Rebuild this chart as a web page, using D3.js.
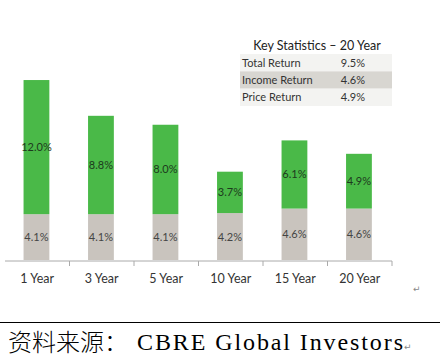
<!DOCTYPE html>
<html><head><meta charset="utf-8">
<script src="https://cdn.jsdelivr.net/npm/d3@7"></script>
<style>body{margin:0;background:#fff}svg{display:block}</style>
</head><body>
<script>
const categories = ["1 Year","3 Year","5 Year","10 Year","15 Year","20 Year"];
const income = [4.1,4.1,4.1,4.2,4.6,4.6];
const price = [12.0,8.8,8.0,3.7,6.1,4.9];
const statLabels = ["Total Return","Income Return","Price Return"];
const statValues = ["9.5%","4.6%","4.9%"];
const tableTitle = "Key Statistics \u2013 20 Year";
const sourceCN = "资料来源：";
const sourceEN = "CBRE Global Investors";

const W=440,H=361;
const svg=d3.select("body").append("svg").attr("width",W).attr("height",H);
const font="Lato, 'Open Sans', sans-serif";

const x=d3.scaleBand().domain(categories).range([5,392]).padding(0);
const y=d3.scaleLinear().domain([0,18]).range([260,58.8]);
const bw=x.bandwidth()*0.4;

const g=svg.append("g");
categories.forEach((c,i)=>{
  const cx=x(c)+x.bandwidth()/2-0.8;
  g.append("rect").attr("x",cx-bw/2).attr("width",bw)
    .attr("y",y(income[i])).attr("height",y(0)-y(income[i])).attr("fill","#c9c4be");
  g.append("rect").attr("x",cx-bw/2).attr("width",bw)
    .attr("y",y(income[i]+price[i])).attr("height",y(income[i])-y(income[i]+price[i])).attr("fill","#4ab948");
  g.append("text").attr("x",cx).attr("y",(y(income[i])+y(income[i]+price[i]))/2+4)
    .attr("text-anchor","middle").attr("font-family",font).attr("font-size",11)
    .attr("fill","#1d3a1d").text(price[i].toFixed(1)+"%");
  g.append("text").attr("x",cx).attr("y",(y(0)+y(income[i]))/2+4)
    .attr("text-anchor","middle").attr("font-family",font).attr("font-size",11)
    .attr("fill","#444").text(income[i].toFixed(1)+"%");
});

// axis
const ax=svg.append("g").attr("transform","translate(0,261)");
ax.append("line").attr("x1",5).attr("x2",392).attr("stroke","#aaa").attr("stroke-width",1);
categories.forEach((c,i)=>{
  const bx=x(c)+x.bandwidth();
  ax.append("line").attr("x1",bx).attr("x2",bx).attr("y1",0).attr("y2",5).attr("stroke","#aaa");
  ax.append("text").attr("x",x(c)+x.bandwidth()/2).attr("y",21.5)
    .attr("text-anchor","middle").attr("font-family",font).attr("font-size",12.5)
    .attr("fill","#333").text(c);
});

// table
const t=svg.append("g");
t.append("text").attr("x",317).attr("y",50).attr("text-anchor","middle")
  .attr("font-family",font).attr("font-size",12.5).attr("fill","#222").text(tableTitle);
const ry=d3.scaleBand().domain(statLabels).range([54,106]);
statLabels.forEach((s,i)=>{
  t.append("rect").attr("x",240).attr("width",152).attr("y",ry(s)).attr("height",ry.bandwidth())
    .attr("fill",i===1?"#d8d6d1":"#f3f3f1");
  t.append("text").attr("x",242).attr("y",ry(s)+ry.bandwidth()/2+4)
    .attr("font-family",font).attr("font-size",11).attr("fill","#333").text(s);
  t.append("text").attr("x",365).attr("y",ry(s)+ry.bandwidth()/2+4).attr("text-anchor","end")
    .attr("font-family",font).attr("font-size",11).attr("fill","#333").text(statValues[i]);
});

// return mark
svg.append("text").attr("x",413).attr("y",292).attr("font-family","DejaVu Sans").attr("font-size",9)
  .attr("fill","#888").text("\u21B5");

// bottom rule and source
svg.append("line").attr("x1",0).attr("x2",440).attr("y1",322.5).attr("y2",322.5).attr("stroke","#000").attr("stroke-width",1);
svg.append("text").attr("x",8).attr("y",351).attr("font-family","'Noto Sans CJK SC'").attr("font-size",24)
  .attr("font-weight",300).attr("fill","#000").text(sourceCN);
svg.append("text").attr("x",137).attr("y",350).attr("font-family","'Liberation Serif', serif").attr("font-size",24)
  .attr("textLength",266).attr("lengthAdjust","spacing")
  .attr("fill","#000").text(sourceEN);
svg.append("text").attr("x",404).attr("y",350).attr("font-family","DejaVu Sans").attr("font-size",9)
  .attr("fill","#888").text("\u21B5");
</script>
</body></html>
